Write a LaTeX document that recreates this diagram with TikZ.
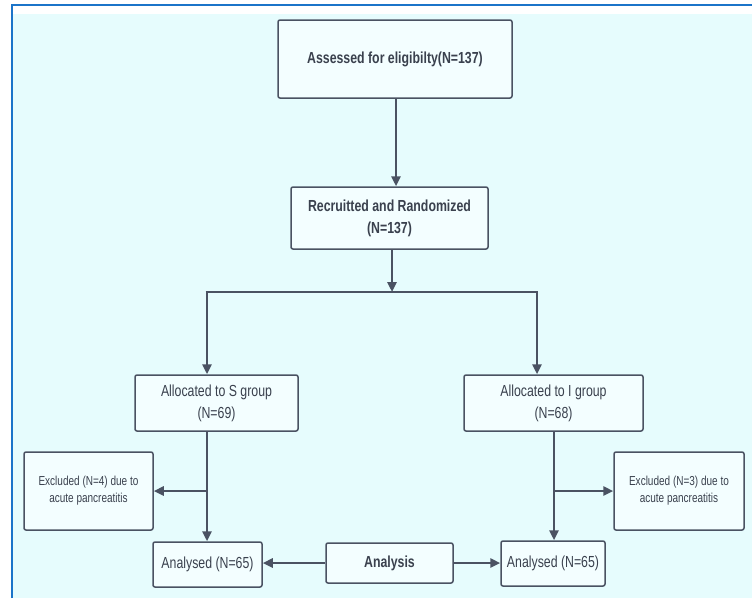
\documentclass[tikz,border=0pt]{standalone}
\usepackage{fontspec}
\setmainfont{Liberation Sans}[FakeStretch=0.77]
\usetikzlibrary{arrows.meta}
\definecolor{bgc}{HTML}{E6FCFD}
\definecolor{boxfill}{HTML}{F3FEFF}
\definecolor{linec}{HTML}{4A5262}
\definecolor{txtc}{HTML}{3A414E}
\definecolor{framec}{HTML}{1B74C9}
\tikzset{
  box/.style={draw=linec, line width=1.5pt, fill=boxfill, rounded corners=2pt,
    inner sep=0pt, align=center, text=txtc, font=\fontsize{16}{22}\selectfont},
  smallbox/.style={box, font=\fontsize{13}{17}\selectfont},
  boldbox/.style={box, font=\fontsize{16}{22}\selectfont\bfseries},
  conn/.style={draw=linec, line width=2.8pt},
  arr/.style={conn, -{Triangle[length=10pt,width=9pt]}},
}
\begin{document}
\begin{tikzpicture}[x=1pt,y=-1pt]
\useasboundingbox (0,0) rectangle (752,598);
\fill[white] (0,0) rectangle (752,598);
\fill[bgc] (13,14) rectangle (752,598);
\draw[framec, line width=2.2pt] (12,598) -- (12,5) -- (752,5);

\node[boldbox, minimum width=234pt, minimum height=78pt] (b1) at (395,59) {Assessed for eligibilty(N=137)};
\node[boldbox, minimum width=197pt, minimum height=62pt] (b2) at (389.5,218) {Recruitted and Randomized\\(N=137)};
\node[box, minimum width=163pt, minimum height=56pt] (s) at (216.5,403) {Allocated to S group\\(N=69)};
\node[box, minimum width=179pt, minimum height=56pt] (i) at (553.5,403) {Allocated to I group\\(N=68)};
\node[smallbox, minimum width=129pt, minimum height=78pt] (exs) at (88.5,491) {Excluded (N=4) due to\\acute pancreatitis};
\node[smallbox, minimum width=130pt, minimum height=78pt] (exi) at (679,491) {Excluded (N=3) due to\\acute pancreatitis};
\node[box, minimum width=109pt, minimum height=45pt] (ans) at (207.5,564.5) {Analysed (N=65)};
\node[box, minimum width=104pt, minimum height=45pt] (ani) at (553,563.5) {Analysed (N=65)};
\node[boldbox, minimum width=127pt, minimum height=40pt] (an) at (389.5,563) {Analysis};

\coordinate (split) at (392,292);
\coordinate (L) at (207,292);
\coordinate (R) at (537,292);
\coordinate (bs) at (207,491);
\coordinate (bi) at (554,491);

\draw[arr] ([xshift=1pt]b1.south) -- ([xshift=1pt]b1.south |- b2.north);
\draw[arr] ([xshift=2.5pt]b2.south) -- ([xshift=2.5pt]b2.south |- split);
\draw[conn] ([xshift=-1.4pt]L) -- ([xshift=1.4pt]R);
\draw[arr] (L) -- (L |- s.north);
\draw[arr] (R) -- (R |- i.north);
\draw[arr] (bs |- s.south) -- (bs |- ans.north);
\draw[arr] (bs) -- (exs.east |- bs);
\draw[arr] (bi |- i.south) -- (bi |- ani.north);
\draw[arr] (bi) -- (exi.west |- bi);
\draw[arr] (an.west) -- (an.west -| ans.east);
\draw[arr] (an.east) -- (an.east -| ani.west);
\end{tikzpicture}
\end{document}
